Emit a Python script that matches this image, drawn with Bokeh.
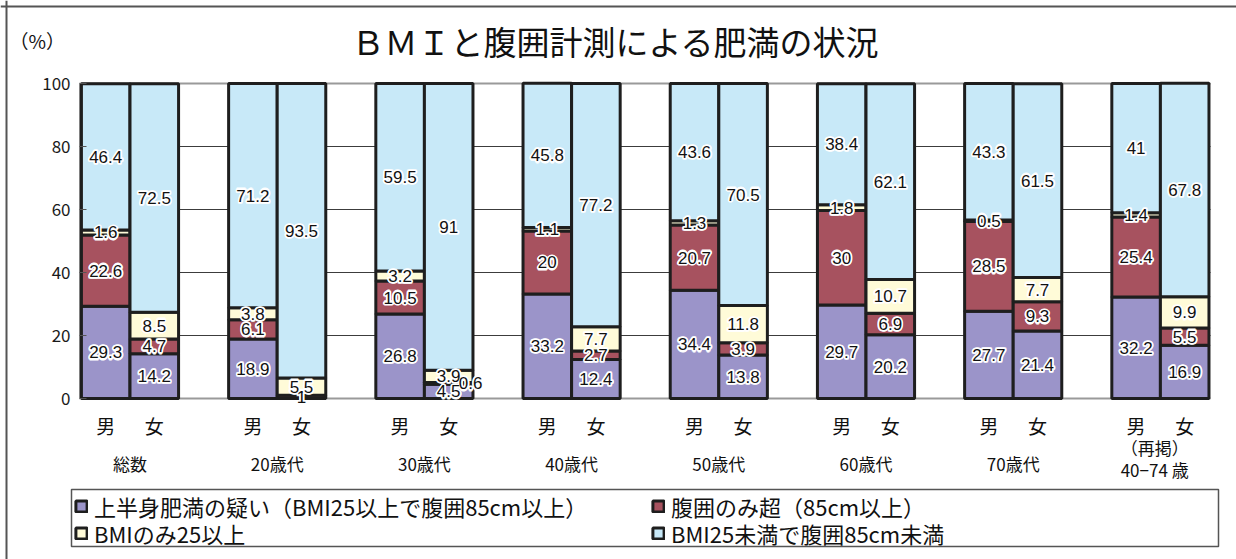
from bokeh.plotting import figure
from bokeh.models import (ColumnDataSource, Label, Legend, LegendItem, Span)
from bokeh.core.properties import value
from bokeh.embed import file_html
from bokeh.resources import INLINE

# ---- data (percent) --------------------------------------------------------
groups = ["総数", "20歳代", "30歳代", "40歳代", "50歳代", "60歳代", "70歳代", "40−74 歳"]
group_note = "（再掲）"          # shown above the last group's name
sexes = ["男", "女"]
layers = [
    "上半身肥満の疑い（BMI25以上で腹囲85cm以上）",
    "腹囲のみ超（85cm以上）",
    "BMIのみ25以上",
    "BMI25未満で腹囲85cm未満",
]
y_ticks = [0, 20, 40, 60, 80, 100]

men_upper = [29.3, 18.9, 26.8, 33.2, 34.4, 29.7, 27.7, 32.2]
men_waist = [22.6, 6.1, 10.5, 20, 20.7, 30, 28.5, 25.4]
men_bmi = [1.6, 3.8, 3.2, 1.1, 1.3, 1.8, 0.5, 1.4]
men_normal = [46.4, 71.2, 59.5, 45.8, 43.6, 38.4, 43.3, 41]

women_upper = [14.2, 0, 4.5, 12.4, 13.8, 20.2, 21.4, 16.9]
women_waist = [4.7, 1, 0.6, 2.7, 3.9, 6.9, 9.3, 5.5]
women_bmi = [8.5, 5.5, 3.9, 7.7, 11.8, 10.7, 7.7, 9.9]
women_normal = [72.5, 93.5, 91, 77.2, 70.5, 62.1, 61.5, 67.8]

# ---- styling ---------------------------------------------------------------
colors = ["#9b94c9", "#a7525f", "#fffbd8", "#c8e9f8"]
EDGE = "#1e1e1e"
JP = "Noto Sans CJK JP"
NUM = "Liberation Sans"
BAR_W = 0.33
W, H = 1236, 559

# the whole canvas is the plotting frame; these convert canvas pixels into
# data units so that titles, axis texts and the legend box can be laid out
GROUP_PX, X0_PX = 147.2, 129.5      # pixels per category, centre of category 0
UNIT_PX, Y0_PX = 3.15, 398.0        # pixels per percent, baseline row


def dx(px):
    return (px - X0_PX) / GROUP_PX


def dy(py):
    return (Y0_PX - py) / UNIT_PX


AREA_L, AREA_R = dx(79), dx(1210)   # extent of the bar area

series_by_sex = [
    [men_upper, men_waist, men_bmi, men_normal],
    [women_upper, women_waist, women_bmi, women_normal],
]

# one row per bar: x position and the four stacked layers
bars = {"x": [], "sex": []}
bars.update({f"s{k}": [] for k in range(len(layers))})
lab = {"x": [], "y": [], "text": []}
# a very thin segment resting on another thin one gets its label moved aside
nudge = {(2, 1, 1): 22 / GROUP_PX}

for i in range(len(groups)):
    for j, series in enumerate(series_by_sex):
        x = i + (j - 0.5) * BAR_W
        bars["x"].append(x)
        bars["sex"].append(sexes[j])
        base = 0.0
        for k in range(len(layers)):
            v = series[k][i]
            bars[f"s{k}"].append(v)
            if v > 0:
                lab["x"].append(x + nudge.get((i, j, k), 0))
                lab["y"].append(base + v / 2)
                lab["text"].append(f"{v:g}")
            base += v

src = ColumnDataSource(bars)
lsrc = ColumnDataSource(lab)

p = figure(width=W, height=H,
           x_range=(dx(0), dx(W)), y_range=(dy(H), dy(0)),
           x_axis_location=None, y_axis_location=None,
           output_backend="svg", toolbar_location=None,
           min_border=0)
p.outline_line_color = None
p.background_fill_color = "white"
p.border_fill_color = "white"
p.xgrid.visible = False
p.ygrid.visible = False

# outer frame of the figure (top and left edges)
p.add_layout(Span(location=dy(6), dimension="width", line_color="#555", line_width=2))
p.add_layout(Span(location=dx(6), dimension="height", line_color="#555", line_width=2))

# horizontal grid lines, baseline and top line
inner = [t for t in y_ticks if 0 < t < 100]
p.segment(x0=[AREA_L] * len(inner), x1=[AREA_R] * len(inner), y0=inner, y1=inner,
          line_color="#3c3c3c", line_width=1)
p.segment(x0=[AREA_L] * 2, x1=[AREA_R] * 2, y0=[y_ticks[0], y_ticks[-1]],
          y1=[y_ticks[0], y_ticks[-1]], line_color="#9a9a9a", line_width=2)

# value axis: line, inward ticks and labels
p.segment(x0=[AREA_L], x1=[AREA_L], y0=[y_ticks[0]], y1=[y_ticks[-1]],
          line_color="#8a8a8a", line_width=1)
p.text(x=[dx(70)] * len(y_ticks), y=y_ticks, text=[str(t) for t in y_ticks],
       text_align="right", text_baseline="middle", text_font=value(JP),
       text_font_size="17px", text_color="#1a1a1a")

# stacked bars
rs = p.vbar_stack([f"s{k}" for k in range(len(layers))], x="x", width=BAR_W,
                  source=src, fill_color=colors, line_color=EDGE, line_width=3)

p.segment(x0=[AREA_L] * len(y_ticks), x1=[dx(86)] * len(y_ticks), y0=y_ticks,
          y1=y_ticks, line_color="#555", line_width=1)

# value labels: a white halo underneath, dark figures on top
label_style = dict(source=lsrc, text_align="center", text_baseline="middle",
                   text_font=value(NUM), text_font_size="17px")
for ox, oy in [(-1.2, 0), (1.2, 0), (0, -1.2), (0, 1.2),
               (-0.9, -0.9), (0.9, -0.9), (-0.9, 0.9), (0.9, 0.9)]:
    p.text(x="x", y="y", text="text", x_offset=ox, y_offset=oy,
           text_color="white", text_outline_color="white", **label_style)
p.text(x="x", y="y", text="text", text_color="#111111", **label_style)

# sex labels under every bar, category names under each pair
p.text(x="x", y=dy(425), text="sex", source=src, text_align="center",
       text_baseline="middle", text_font=value(JP), text_font_size="19px",
       text_color="#111")
p.text(x=list(range(len(groups) - 1)), y=dy(463), text=groups[:-1],
       text_align="center", text_baseline="middle", text_font=value(JP),
       text_font_size="17px", text_color="#111")
last = len(groups) - 1
p.text(x=[last - 0.27] * 2, y=[dy(447), dy(469)], text=[group_note, groups[-1]],
       text_align="left", text_baseline="middle", text_font=value(JP),
       text_font_size="17px", text_color="#111")

# heading and unit
p.add_layout(Label(x=dx(615), y=dy(40), text="ＢＭＩと腹囲計測による肥満の状況",
                   text_align="center", text_baseline="middle", text_font=JP,
                   text_font_size="33px", text_color="#111"))
p.add_layout(Label(x=dx(9), y=dy(40), text="（%）", text_align="left",
                   text_baseline="middle", text_font=JP,
                   text_font_size="19px", text_color="#111"))

# legend: framed box holding two rows of two entries
p.quad(left=[dx(71)], right=[dx(1218)], top=[dy(489)], bottom=[dy(546)],
       fill_color="white", line_color="#555", line_width=1.5)
legend_style = dict(orientation="horizontal", ncols=2,
                    label_text_font=JP, label_text_font_size="22px",
                    label_text_color="#111", glyph_width=14, glyph_height=14,
                    label_standoff=6, padding=0, spacing=4, margin=0,
                    label_width=553, border_line_color=None,
                    background_fill_alpha=0)
for row, bottom_px in ((0, 522), (1, 549)):
    items = [LegendItem(label=layers[k], renderers=[rs[k]])
             for k in (2 * row, 2 * row + 1)]
    p.add_layout(Legend(items=items, location=(74, H - bottom_px), **legend_style))

open("out.html", "w").write(file_html(p, INLINE))
